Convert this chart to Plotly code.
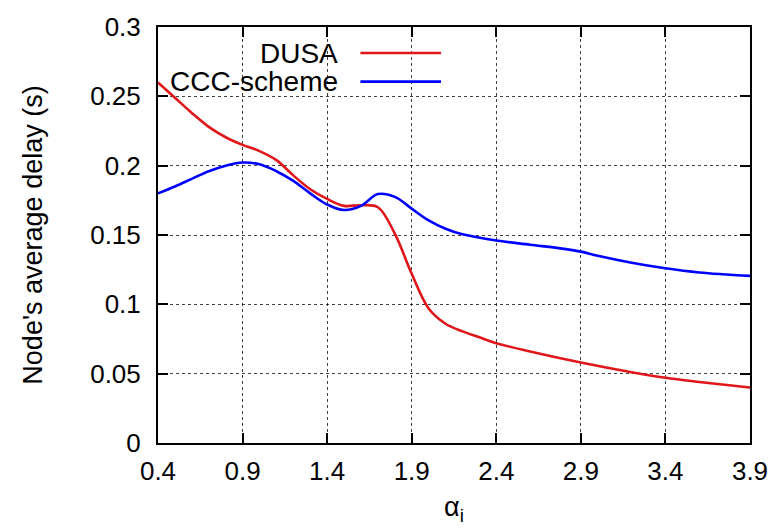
import plotly.graph_objects as go

alpha_dusa = [0.4, 0.5, 0.6, 0.7, 0.8, 0.9, 1.0, 1.1, 1.2, 1.3, 1.4, 1.5, 1.6, 1.7, 1.8,
              1.9, 2.0, 2.1, 2.2, 2.3, 2.4, 2.6, 2.9, 3.2, 3.4, 3.6, 3.9]
delay_dusa = [0.260, 0.249, 0.238, 0.228, 0.2205, 0.215, 0.2105, 0.204, 0.193, 0.183, 0.176, 0.171,
              0.1715, 0.170, 0.151, 0.122, 0.097, 0.086, 0.0805, 0.0762, 0.072, 0.066, 0.058,
              0.051, 0.047, 0.044, 0.040]

alpha_ccc = [0.4, 0.5, 0.6, 0.7, 0.8, 0.9, 1.0, 1.1, 1.2, 1.3, 1.4, 1.5, 1.6, 1.7, 1.8,
             1.9, 2.0, 2.1, 2.2, 2.4, 2.6, 2.8, 2.9, 3.0, 3.2, 3.4, 3.6, 3.9]
delay_ccc = [0.180, 0.185, 0.1905, 0.196, 0.200, 0.2023, 0.201, 0.196, 0.189, 0.180, 0.172, 0.168,
             0.171, 0.1795, 0.1775, 0.169, 0.1605, 0.1545, 0.1505, 0.146, 0.143, 0.140,
             0.138, 0.135, 0.130, 0.126, 0.123, 0.1205]

x_ticks = [0.4, 0.9, 1.4, 1.9, 2.4, 2.9, 3.4, 3.9]
x_labels = ["0.4", "0.9", "1.4", "1.9", "2.4", "2.9", "3.4", "3.9"]
y_ticks = [0, 0.05, 0.1, 0.15, 0.2, 0.25, 0.3]
y_labels = ["0", "0.05", "0.1", "0.15", "0.2", "0.25", "0.3"]

series_names = ["DUSA", "CCC-scheme"]
series_colors = ["#e0161b", "#0000ff"]

FONT = "Liberation Sans, Arial, sans-serif"
TICK_FS = 26
TITLE_FS = 27
LEG_FS = 28

fig = go.Figure()
fig.add_trace(go.Scatter(x=alpha_dusa, y=delay_dusa, mode="lines", name=series_names[0],
                         line=dict(color=series_colors[0], width=2.6, shape="spline", smoothing=1.0),
                         showlegend=False))
fig.add_trace(go.Scatter(x=alpha_ccc, y=delay_ccc, mode="lines", name=series_names[1],
                         line=dict(color=series_colors[1], width=2.6, shape="spline", smoothing=1.0),
                         showlegend=False))

# gnuplot-style legend: text on the left, line sample on the right
legend_y = [0.9374, 0.8687]
for name, color, ly in zip(series_names, series_colors, legend_y):
    fig.add_annotation(x=0.3066, y=ly, xref="paper", yref="paper", text=name, showarrow=False,
                       xanchor="right", yanchor="middle", font=dict(family=FONT, size=LEG_FS, color="black"))
    fig.add_shape(type="line", xref="paper", yref="paper", x0=0.3419, x1=0.478, y0=ly, y1=ly,
                  line=dict(color=color, width=2.6))

axis_common = dict(
    showline=True, linecolor="black", linewidth=2, mirror="ticks",
    ticks="inside", ticklen=10, tickwidth=2, tickcolor="black",
    showgrid=True, gridcolor="rgba(0,0,0,0.75)", griddash="dot", gridwidth=1,
    zeroline=False, tickfont=dict(family=FONT, size=TICK_FS, color="black"),
)

fig.update_xaxes(range=[0.4, 3.9], tickvals=x_ticks, ticktext=x_labels,
                 title=dict(text="α<sub>i</sub>", font=dict(family=FONT, size=TITLE_FS, color="black"), standoff=12),
                 ticklabelstandoff=4, **axis_common)
fig.update_yaxes(range=[0, 0.3], tickvals=y_ticks, ticktext=y_labels,
                 title=dict(text="Node's average delay (s)", font=dict(family=FONT, size=TITLE_FS, color="black"), standoff=40),
                 ticklabelstandoff=10, **axis_common)

fig.update_layout(
    width=780, height=529,
    margin=dict(l=157.5, r=27.3, t=22.6, b=84.5),
    plot_bgcolor="white", paper_bgcolor="white",
    showlegend=False,
)

fig.write_html("out.html")
